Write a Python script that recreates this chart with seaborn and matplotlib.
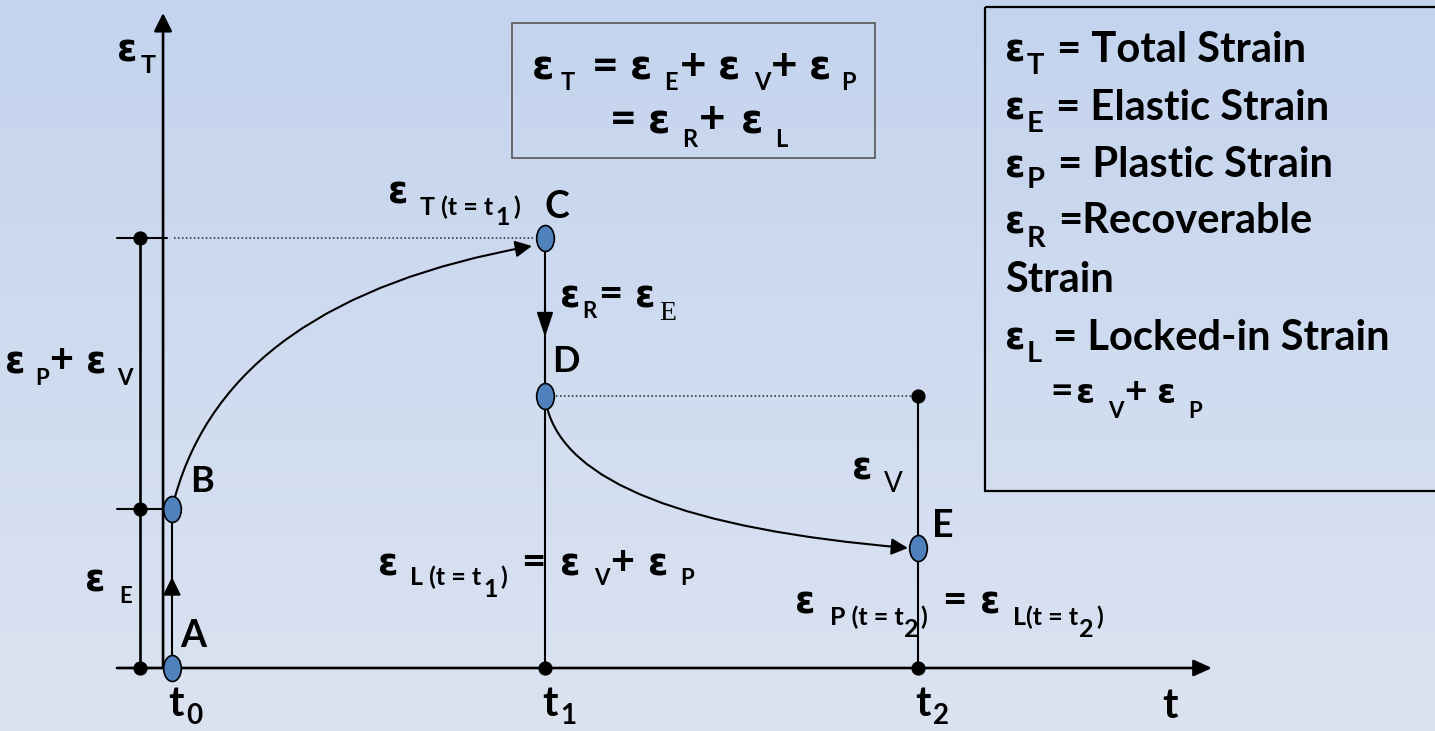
import numpy as np
import matplotlib
matplotlib.use('Agg')
import matplotlib.pyplot as plt
import seaborn as sns
from matplotlib.path import Path
from matplotlib.patches import FancyArrowPatch, Rectangle
from matplotlib.markers import MarkerStyle
from matplotlib.transforms import Affine2D
from matplotlib.colors import LinearSegmentedColormap

# ---------------- data (schematic strain-time diagram) ----------------
time_subscripts = ['0', '1', '2']
time_values = [0.0, 1.0, 2.0]
point_names = ['A', 'B', 'C', 'D', 'E']
point_t = [0.0, 0.0, 1.0, 1.0, 2.0]
point_eps = [0.0, 1.59, 4.30, 2.72, 1.20]
eps_E = 1.59          # elastic strain
eps_T = 4.30          # total strain at t1
eps_D = 2.72          # locked-in strain at t1
eps_E_t2 = 1.20       # plastic strain at t2
# curve control points (quadratic Bezier)
creep_t = [0.008, 0.155, 0.965]
creep_eps = [1.71, 3.68, 4.22]
recov_t = [1.005, 1.080, 1.973]
recov_eps = [2.61, 1.48, 1.20]

W, H = 1435, 731
sns.set_style('white')
plt.rcParams['font.family'] = ['Lato', 'DejaVu Sans']

fig = plt.figure(figsize=(W / 100, H / 100), dpi=100)
ax = fig.add_axes([0, 0, 1, 1])
ax.set_axis_off()
x0, x1 = -172 / 373, (W - 172) / 373
y0, y1 = (668 - H) / 100, 668 / 100
ax.set_xlim(x0, x1)
ax.set_ylim(y0, y1)

# background gradient
cmap = LinearSegmentedColormap.from_list('bg', ['#c4d4ee', '#dbe3f1'])
ax.imshow(np.linspace(0, 1, 256).reshape(-1, 1), cmap=cmap, extent=(x0, x1, y0, y1),
          aspect='auto', origin='upper', zorder=0)

PX = Affine2D().scale(1, -1).translate(0, H)  # pixel coords, origin top-left

LW_AX = 1.9
LW = 1.5
k = 'black'

y_axis_t = -0.024
bracket_t = -0.086
tick_left = -0.1475
x_axis_end = 2.788
y_axis_top = 6.55

def arrow(p_from, p_to, hl, hw, lw):
    ax.annotate('', xy=p_to, xytext=p_from,
                arrowprops=dict(arrowstyle=f'-|>,head_length={hl},head_width={hw}',
                                mutation_scale=1, lw=lw, color=k, shrinkA=0, shrinkB=0),
                zorder=3)

# axes
arrow((y_axis_t, 0), (y_axis_t, y_axis_top), 11, 5.5, LW_AX)
arrow((tick_left, 0), (x_axis_end, 0), 11, 5.0, LW_AX)

# bracket & ticks on the left
ax.plot([bracket_t, bracket_t], [0, eps_T], color=k, lw=LW_AX, zorder=2)
for lv in [0, eps_E]:
    ax.plot([tick_left, y_axis_t], [lv, lv], color=k, lw=LW, zorder=2)
ax.plot([tick_left, -0.013], [eps_T, eps_T], color=k, lw=LW, zorder=2)

# dotted guides
ax.plot([y_axis_t + 0.03, point_t[2] - 0.03], [eps_T, eps_T], color='#222222', lw=1.1,
        ls=(0, (1, 1.6)), zorder=2)
ax.plot([point_t[3] + 0.03, time_values[2]], [eps_D, eps_D], color='#222222', lw=1.1,
        ls=(0, (1, 1.6)), zorder=2)

# A -> B instantaneous elastic
ax.plot([point_t[0], point_t[1]], [point_eps[0], point_eps[1]], color=k, lw=LW, zorder=2)
arrow((point_t[0], 0.70), (point_t[0], 0.91), 11, 5.4, LW)
# C -> D recovery
ax.plot([point_t[2], point_t[2]], [point_eps[2], 0], color=k, lw=LW, zorder=2)
arrow((point_t[2], 3.60), (point_t[2], 3.31), 15, 5.0, LW)
# t2 vertical
ax.plot([time_values[2], time_values[2]], [eps_D, 0], color=k, lw=LW, zorder=2)

# curves
for ts, es in [(creep_t, creep_eps), (recov_t, recov_eps)]:
    path = Path(list(zip(ts, es)), [Path.MOVETO, Path.CURVE3, Path.CURVE3])
    ax.add_patch(FancyArrowPatch(path=path, arrowstyle='-|>,head_length=10,head_width=5',
                                 mutation_scale=1, lw=LW, color=k, zorder=3))

# black dots
dot_t = [bracket_t, bracket_t, bracket_t, time_values[1], time_values[2], time_values[2]]
dot_e = [0, eps_E, eps_T, 0, 0, eps_D]
sns.scatterplot(x=dot_t, y=dot_e, ax=ax, s=105, color=k, edgecolor=k, linewidth=0, zorder=4)

# blue ellipse points
ell = Path.unit_circle().transformed(Affine2D().scale(0.68, 1.0))
sns.scatterplot(x=point_t, y=point_eps, ax=ax, s=350, marker=MarkerStyle(ell),
                color='#4f81bd', edgecolor='black', linewidth=1.2, zorder=5)

# boxes
ax.add_patch(Rectangle((512, 23), 363, 135, transform=PX, fill=False, ec='#555555', lw=1.2, zorder=6))
ax.add_patch(Rectangle((985, 7), 480, 484, transform=PX, fill=False, ec='black', lw=1.6, zorder=6))

# ---------------- rich text helper ----------------
E = 'ε'
EPS_KW = dict(fontfamily=['DejaVu Sans'], fontweight='bold')

def rich(px, py, segs):
    prev = None
    for seg in segs:
        text, size, gap, drop = seg[:4]
        kw = dict(fontfamily=['Lato', 'DejaVu Sans'], fontweight='bold', color=k)
        if text == E:
            kw.update(EPS_KW)
            size = size * 0.88
        if len(seg) > 4:
            kw.update(seg[4])
        if prev is None:
            prev = ax.text(px, py, text, transform=PX, fontsize=size, va='baseline',
                           ha='left', zorder=7, **kw)
        else:
            prev = ax.annotate(text, xy=(1, py), xycoords=(prev, PX),
                               xytext=(gap * 0.72, -drop * 0.72), textcoords='offset points',
                               fontsize=size, va='baseline', ha='left', zorder=7, **kw)
    return prev

REG = dict(fontweight='normal')
SERIF = dict(fontfamily=['Liberation Serif', 'DejaVu Serif'], fontweight='normal')

# formula box
rich(532, 80, [(E, 33, 0, 0), ('T', 17, 6, 10), ('=', 33, 17, 0), (E, 33, 11, 0), ('E', 17, 12, 10),
               ('+', 33, 2, 0), (E, 33, 12, 0), ('V', 17, 14, 10), ('+', 33, 0, 0),
               (E, 33, 11, 0), ('P', 17, 10, 10)])
rich(610, 133, [('=', 33, 0, 0), (E, 33, 11, 0), ('R', 17, 12, 14), ('+', 33, 2, 0),
                (E, 33, 15, 0), ('L', 17, 12, 14)])

# legend box
LS, SS = 30, 21
rich(1005, 62, [(E, LS, 0, 0), ('T', SS, 1, 12), ('= Total Strain', LS, 13, 0)])
rich(1005, 120, [(E, LS, 0, 0), ('E', SS, 1, 12), ('= Elastic Strain', LS, 13, 0)])
rich(1005, 177, [(E, LS, 0, 0), ('P', SS, 1, 11), ('= Plastic Strain', LS, 13, 0)])
rich(1005, 233, [(E, LS, 0, 0), ('R', SS, 1, 14), ('=Recoverable', LS, 13, 0)])
rich(1005, 292, [('Strain', LS, 0, 0)])
rich(1005, 350, [(E, LS, 0, 0), ('L', SS, 1, 12), ('= Locked-in Strain', LS, 11, 0)])
rich(1050, 403, [('=', 28, 0, 0), (E, 28, 3, 0), ('V', 16, 13, 15), ('+', 28, 1, 0),
                 (E, 28, 10, 0), ('P', 16, 12, 15)])

# axis labels
rich(117, 62, [(E, 30, 0, 0), ('T', 18, 3, 11)])
for sub, tx in zip(time_subscripts, [168, 542, 915]):
    rich(tx, 716, [('t', 30, 0, 0), (sub, 20, 3, 8)])
rich(1162, 718, [('t', 30, 0, 0)])

# point letters
for name, (px, py, sz) in zip(point_names, [(180, 647, 27), (190, 492, 26), (545, 218, 27),
                                             (552, 372, 26), (932, 537, 27)]):
    rich(px, py, [(name, sz, 0, 0)])

# annotation labels
SUB = 18
rich(388, 203, [(E, 30, 0, 0), ('T (t = t', SUB, 12, 12), ('1', SUB, 2, 22), (')', SUB, 3, 12)])
rich(560, 307, [(E, 30, 0, 0), ('R', 16, 2, 11), ('=', 30, 1, 0), (E, 30, 13, 0),
                ('E', 20, 4, 13, SERIF)])
rich(5, 373, [(E, 30, 0, 0), ('P', 16, 10, 12), ('+', 30, 0, 0), (E, 30, 13, 0), ('V', 16, 10, 12)])
rich(85, 592, [(E, 30, 0, 0), ('E', 16, 14, 11)])
rich(378, 575, [(E, 30, 0, 0), ('L (t = t', SUB, 12, 10), ('1', SUB, 2, 22), (')', SUB, 2, 10),
                ('=', 30, 14, 0), (E, 30, 15, 0), ('V', 16, 13, 10), ('+', 30, 1, 0),
                (E, 30, 14, 0), ('P', 16, 11, 10)])
rich(852, 480, [(E, 30, 0, 0), ('V', 20, 11, 12, REG)])
rich(795, 613, [(E, 30, 0, 0), ('P (t = t', SUB, 14, 12), ('2', SUB, 1, 24), (')', SUB, 2, 12),
                ('=', 30, 15, 0), (E, 30, 13, 0), ('L(t = t', SUB, 13, 12), ('2', SUB, 1, 24),
                (')', SUB, 2, 12)])

fig.savefig('out.png', dpi=100)
